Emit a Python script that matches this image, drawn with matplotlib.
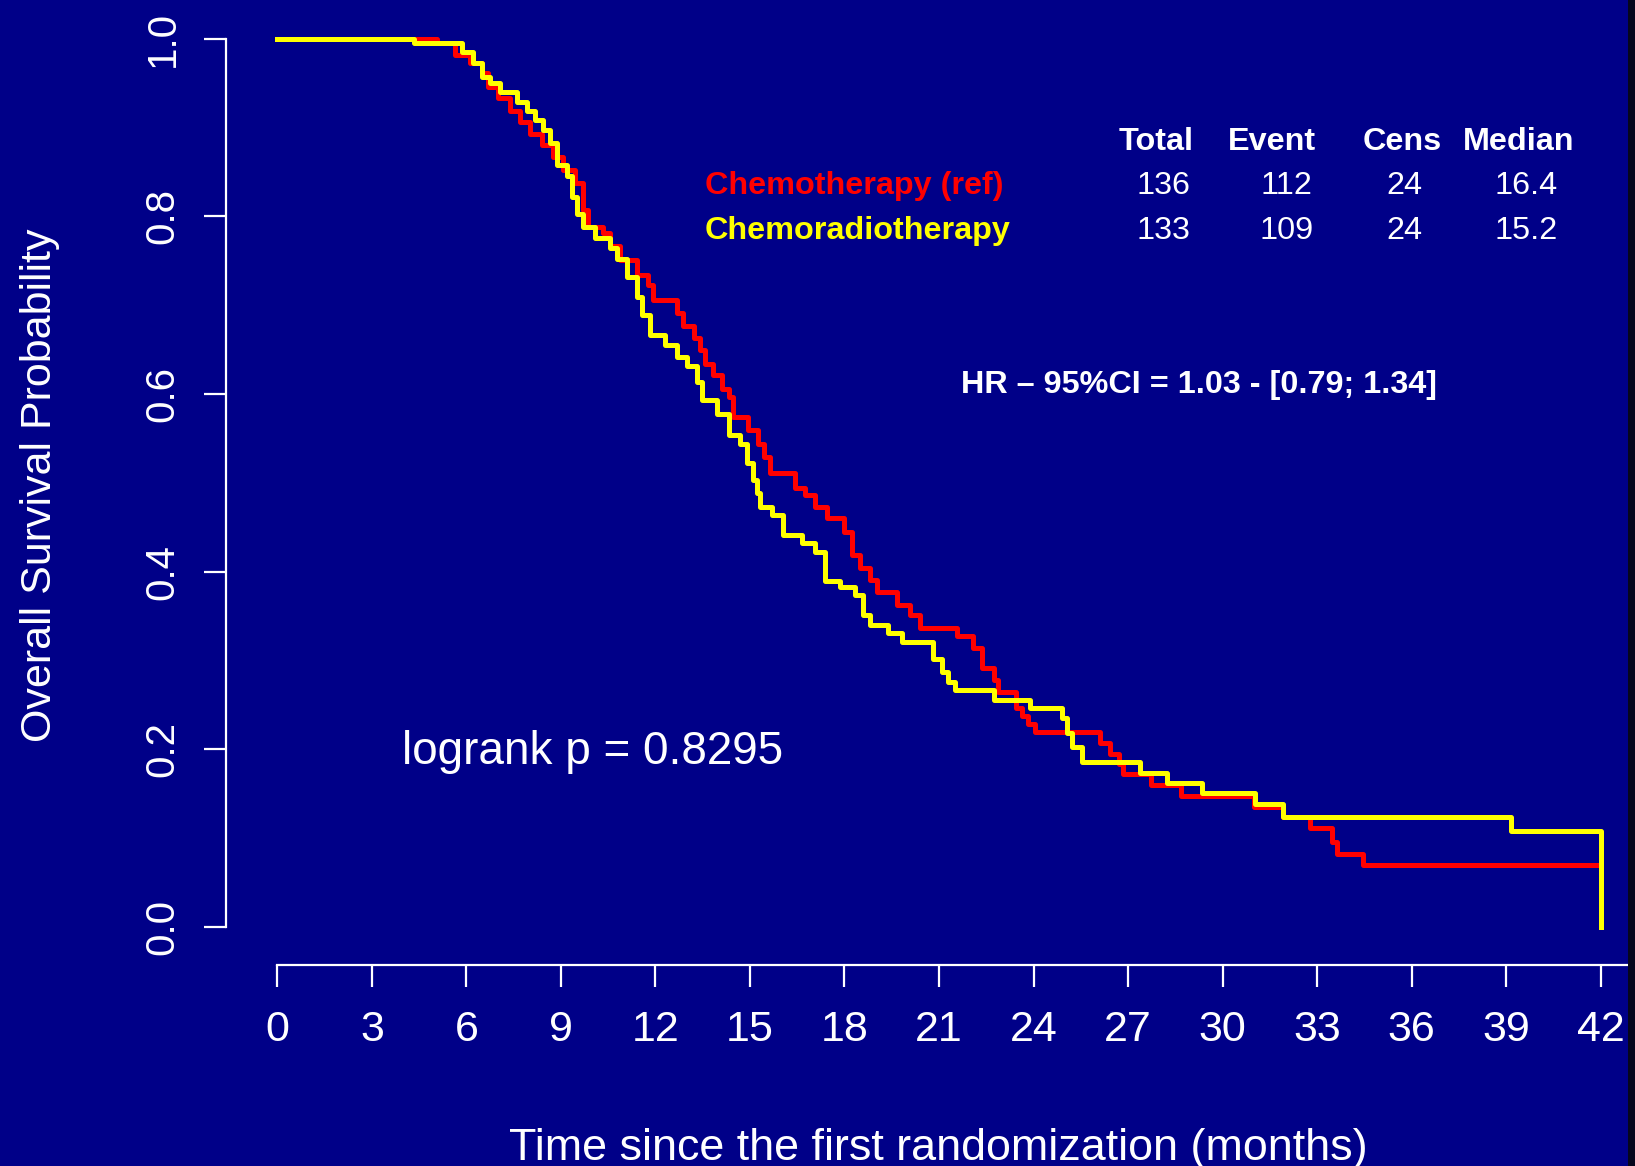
import matplotlib
matplotlib.use("Agg")
import matplotlib.pyplot as plt
from matplotlib.patches import Rectangle

plt.rcParams['font.family'] = ['Liberation Sans', 'DejaVu Sans']

# Kaplan-Meier steps (months, survival after the step)
chemo_t = [0, 5.06, 5.64, 6.11, 6.49, 6.70, 7.01, 7.38, 7.70, 8.02, 8.39, 8.76,
           9.08, 9.45, 9.71, 9.87, 10.35, 10.56, 10.88, 11.41, 11.77, 11.93,
           12.68, 12.89, 13.21, 13.42, 13.58, 13.84, 14.10, 14.32, 14.47, 14.95,
           15.27, 15.43, 15.64, 16.43, 16.75, 17.07, 17.44, 17.97, 18.23, 18.49,
           18.81, 19.02, 19.66, 20.08, 20.40, 21.57, 22.09, 22.36, 22.74, 22.88,
           23.45, 23.65, 23.84, 24.05, 26.12, 26.42, 26.70, 26.83, 27.72, 28.68,
           31.00, 31.93, 32.79, 33.49, 33.63, 34.46, 42.0]
chemo_s = [1.0, 0.995, 0.982, 0.972, 0.961, 0.946, 0.933, 0.918, 0.906, 0.893, 0.880, 0.867,
           0.852, 0.837, 0.807, 0.788, 0.781, 0.766, 0.751, 0.734, 0.723, 0.706,
           0.691, 0.676, 0.663, 0.649, 0.634, 0.621, 0.606, 0.597, 0.574, 0.559,
           0.544, 0.529, 0.511, 0.494, 0.486, 0.473, 0.460, 0.445, 0.419, 0.404,
           0.391, 0.377, 0.362, 0.351, 0.336, 0.327, 0.314, 0.291, 0.278, 0.264,
           0.247, 0.237, 0.228, 0.220, 0.207, 0.195, 0.183, 0.172, 0.160, 0.147,
           0.135, 0.1235, 0.111, 0.096, 0.082, 0.070, 0.070]

crt_t = [0, 4.33, 5.85, 6.22, 6.48, 6.75, 7.07, 7.60, 7.91, 8.18, 8.44, 8.65,
         8.87, 9.18, 9.34, 9.50, 9.71, 10.08, 10.56, 10.77, 11.09, 11.41, 11.57,
         11.83, 12.30, 12.68, 13.00, 13.31, 13.47, 13.95, 14.32, 14.69, 14.90,
         15.11, 15.22, 15.32, 15.69, 16.06, 16.64, 17.07, 17.38, 17.86, 18.34,
         18.60, 18.81, 19.39, 19.82, 20.82, 21.08, 21.29, 21.51, 22.74, 23.90,
         24.90, 25.06, 25.22, 25.53, 27.39, 28.23, 29.34, 31.03, 31.93, 39.17, 42.0]
crt_s = [1.0, 0.995, 0.985, 0.972, 0.957, 0.950, 0.940, 0.929, 0.918, 0.908, 0.897, 0.882,
         0.858, 0.845, 0.822, 0.803, 0.788, 0.775, 0.764, 0.7515, 0.732, 0.7095, 0.689,
         0.666, 0.655, 0.642, 0.631, 0.614, 0.593, 0.578, 0.554, 0.544, 0.522,
         0.503, 0.488, 0.473, 0.464, 0.441, 0.432, 0.4225, 0.389, 0.383, 0.374,
         0.351, 0.340, 0.3306, 0.321, 0.302, 0.287, 0.276, 0.2668, 0.2555, 0.2465,
         0.235, 0.218, 0.203, 0.186, 0.1737, 0.1617, 0.1505, 0.139, 0.124, 0.108, 0.0]

arms = ["Chemotherapy (ref)", "Chemoradiotherapy"]
arm_colors = ["#ff0000", "#ffff00"]
headers = ["Total", "Event", "Cens", "Median"]
totals = [136, 133]
events = [112, 109]
cens = [24, 24]
medians = [16.4, 15.2]
hr_text = "HR \u2013 95%CI = 1.03 - [0.79; 1.34]"
logrank_text = "logrank p = 0.8295"

xticks = list(range(0, 43, 3))
yticks = [0.0, 0.2, 0.4, 0.6, 0.8, 1.0]

bg = "#000088"
fg = "white"
W, H = 1635, 1166

fig = plt.figure(figsize=(W / 100, H / 100), dpi=100, facecolor=bg)
ax = fig.add_axes([277.4 / W, 239 / H, 1323.2 / W, 888.4 / H], facecolor=bg)

ax.step(chemo_t, chemo_s, where="post", color=arm_colors[0], lw=3.6, clip_on=False)
ax.step(crt_t, crt_s, where="post", color=arm_colors[1], lw=3.6, clip_on=False)

ax.set_xlim(0, 42)
ax.set_ylim(0, 1)

for s in ["top", "right"]:
    ax.spines[s].set_visible(False)
ax.spines["left"].set_position(("outward", 37))
ax.spines["bottom"].set_position(("outward", 27))
ax.spines["left"].set_bounds(0, 1)
ax.spines["bottom"].set_bounds(0, 42.85)
for s in ["left", "bottom"]:
    ax.spines[s].set_color(fg)
    ax.spines[s].set_linewidth(1.6)

ax.set_xticks(xticks)
ax.set_xticklabels([str(t) for t in xticks])
ax.set_yticks(yticks)
ax.set_yticklabels(["%.1f" % v for v in yticks])
ax.tick_params(axis="both", colors=fg, length=16, width=1.6)
ax.tick_params(axis="x", pad=17, labelsize=31)
ax.tick_params(axis="y", pad=16, labelsize=29, labelrotation=90)
for lab in ax.get_yticklabels():
    lab.set_va("center")

fig.text(40 / W, 1 - 485 / H, "Overall Survival Probability", rotation=90,
         ha="center", va="center", color=fg, fontsize=31)
fig.text(938 / W, 1 - 1160 / H, "Time since the first randomization (months)",
         ha="center", va="baseline", color=fg, fontsize=32.3)

# table legend
hdr_x = [27.88, 31.56, 35.71, 39.41]
num_x = [28.13, 32.04, 35.76, 39.65]
row_y = [0.8251, 0.7741]
for hx, h in zip(hdr_x, headers):
    ax.text(hx, 0.8746, h, ha="center", va="baseline", color=fg,
            fontsize=23.3, fontweight="bold")
for i in range(2):
    ax.text(13.56, row_y[i], arms[i], ha="left", va="baseline",
            color=arm_colors[i], fontsize=23.3, fontweight="bold")
    vals = [str(totals[i]), str(events[i]), str(cens[i]), "%.1f" % medians[i]]
    for nx, v in zip(num_x, vals):
        ax.text(nx, row_y[i], v, ha="center", va="baseline", color=fg, fontsize=23.3)

ax.text(29.26, 0.6007, hr_text, ha="center", va="baseline", color=fg,
        fontsize=23.3, fontweight="bold")
ax.text(10, 0.197, logrank_text, ha="center", va="center", color=fg, fontsize=33)

fig.patches.append(Rectangle((1628 / W, 0), 7 / W, 1, transform=fig.transFigure,
                             facecolor="#06061c", edgecolor="none"))

fig.savefig("out.png", dpi=100, facecolor=bg)
